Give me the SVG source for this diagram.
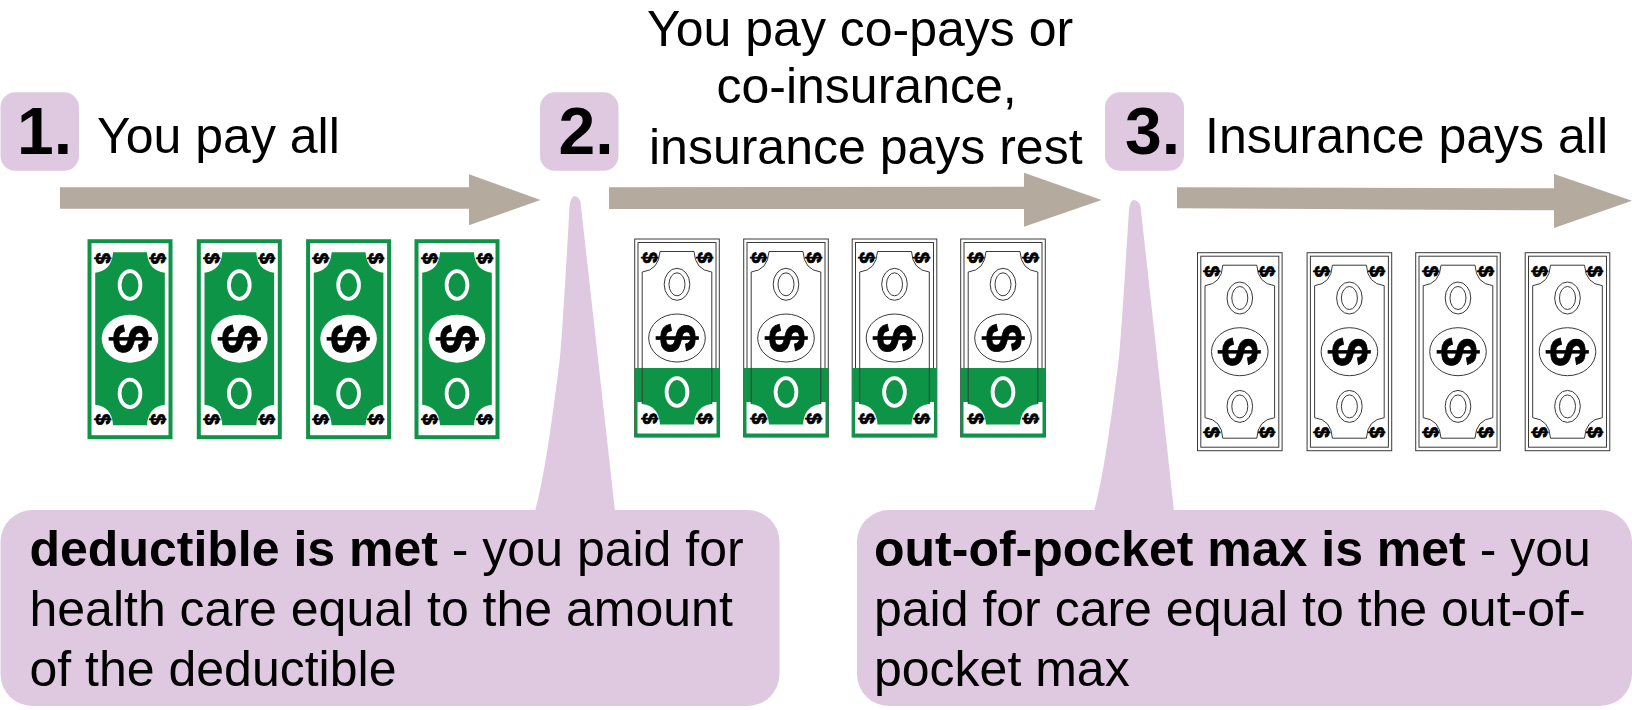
<svg xmlns="http://www.w3.org/2000/svg" xmlns:xlink="http://www.w3.org/1999/xlink" width="1632" height="710" viewBox="0 0 1632 710">
<style>
text{font-family:"Liberation Sans",Arial,Helvetica,sans-serif;fill:#000}
.t{font-size:50px}
.n{font-size:66px;font-weight:700}
.b{font-weight:700}
.p{fill:#dfc9e0}
.a{fill:#b5aa9e}
.d{font-weight:700;text-anchor:middle;stroke:#000;stroke-width:.7}
.g{fill:#0e9447}
.l{fill:none;stroke:#3a3a3a;stroke-width:1}
.lw{fill:#fff;stroke:#3a3a3a;stroke-width:1}
</style>
<defs>
<path id="inner" d="M-17 -86.5H17Q18 -68 34.8 -66V66Q18 68 17 86.5H-17Q-18 68 -34.8 66V-66Q-18 -68 -17 -86.5Z"/>
<g id="signs">
<g transform="translate(-27.5 -80.5) rotate(90)"><text class="d" font-size="20" y="7">$</text></g>
<g transform="translate(27.5 -80.5) rotate(90)"><text class="d" font-size="20" y="7">$</text></g>
<g transform="translate(-27.5 80.5) rotate(90)"><text class="d" font-size="20" y="7">$</text></g>
<g transform="translate(27.5 80.5) rotate(90)"><text class="d" font-size="20" y="7">$</text></g>
<rect x="-35.5" y="-81" width="16" height="1" fill="#000"/><rect x="19.5" y="-81" width="16" height="1" fill="#000"/>
<rect x="-35.5" y="80" width="16" height="1" fill="#000"/><rect x="19.5" y="80" width="16" height="1" fill="#000"/>
</g>
<g id="bigsign">
<g transform="rotate(90)"><text class="d" font-size="52" y="17.5">$</text></g>
<rect x="-20" y="-0.9" width="40" height="1.8" fill="#000"/>
</g>
<g id="billGreen">
<rect x="-40.5" y="-97.5" width="81" height="196" fill="#fff" stroke="#0e9447" stroke-width="4"/>
<use href="#inner" class="g"/>
<ellipse cy="-53.7" rx="10.4" ry="13.8" class="g" stroke="#fff" stroke-width="3.8"/>
<ellipse cy="54.7" rx="10.4" ry="13.8" class="g" stroke="#fff" stroke-width="3.8"/>
<ellipse rx="28.3" ry="24" fill="#fff"/>
<use href="#bigsign"/>
<use href="#signs"/>
</g>
<g id="billOutline">
<rect x="-42.3" y="-99" width="84.6" height="198" class="lw"/>
<rect x="-39" y="-95.5" width="78" height="191" class="l"/>
<use href="#inner" class="l"/>
<ellipse cy="-53.7" rx="12.8" ry="16" class="l"/>
<ellipse cy="-53.7" rx="8" ry="11.5" class="l"/>
<ellipse cy="54.7" rx="12.8" ry="16" class="l"/>
<ellipse cy="54.7" rx="8" ry="11.5" class="l"/>
<ellipse rx="28.3" ry="24" class="lw"/>
<use href="#bigsign"/>
<use href="#signs"/>
</g>
<clipPath id="innerClip"><use href="#inner"/></clipPath>
<g id="billPartial">
<rect x="-42.3" y="-99" width="84.6" height="198" class="lw"/>
<rect x="-39" y="-95.5" width="78" height="191" class="l"/>
<rect x="-42.3" y="30" width="84.6" height="69" class="g"/>
<rect x="-39.5" y="64" width="79" height="31.5" fill="#fff"/>
<g clip-path="url(#innerClip)"><rect x="-36" y="30" width="72" height="60" class="g"/></g>
<path d="M-34.8 66V-66Q-18 -68 -17 -86.5H17Q18 -68 34.8 -66V66" class="l"/>
<ellipse cy="-53.7" rx="12.8" ry="16" class="l"/>
<ellipse cy="-53.7" rx="8" ry="11.5" class="l"/>
<ellipse cy="54" rx="10.4" ry="13.8" class="g" stroke="#fff" stroke-width="3.8"/>
<ellipse rx="28.3" ry="24" class="lw"/>
<use href="#bigsign"/>
<use href="#signs"/>
</g>
</defs>
<rect width="1632" height="710" fill="#fff"/>

<g id="connectors">
<polygon class="a" points="60,187.3 469,187.3 469,174.3 540.5,200 469,225.3 469,208.7 60,208.7"/>
<polygon class="a" points="609,187.3 1024,186.7 1024,172.7 1101.6,200 1024,226.7 1024,209 609,209"/>
<polygon class="a" points="1177,187.3 1554,188.3 1554,174 1632,200.7 1554,228 1554,210.3 1177,208.3"/>
</g>

<g id="step-1">
<rect class="p" x="0.5" y="92.3" width="78.5" height="78.5" rx="15"/>
<text class="n" x="17" y="153.5">1.</text>
<text class="t" x="97" y="153">You pay all</text>
</g>
<g id="step-2">
<rect class="p" x="540" y="92.3" width="78.5" height="78.5" rx="15"/>
<text class="n" x="558.5" y="153.5">2.</text>
<text class="t" x="647" y="45.5">You pay co-pays or</text>
<text class="t" x="716.5" y="102.5">co-insurance,</text>
<text class="t" x="649" y="164">insurance pays rest</text>
</g>
<g id="step-3">
<rect class="p" x="1105" y="92.3" width="79" height="78.5" rx="15"/>
<text class="n" x="1125" y="153.5">3.</text>
<text class="t" x="1205" y="153">Insurance pays all</text>
</g>

<g id="bills-full">
<g id="bill-1-1"><use href="#billGreen" x="130" y="338.7"/></g>
<g id="bill-1-2"><use href="#billGreen" x="239.3" y="338.7"/></g>
<g id="bill-1-3"><use href="#billGreen" x="348.6" y="338.7"/></g>
<g id="bill-1-4"><use href="#billGreen" x="457" y="338.7"/></g>
</g>
<g id="bills-partial">
<g id="bill-2-1"><use href="#billPartial" x="677" y="338"/></g>
<g id="bill-2-2"><use href="#billPartial" x="786" y="338"/></g>
<g id="bill-2-3"><use href="#billPartial" x="894.5" y="338"/></g>
<g id="bill-2-4"><use href="#billPartial" x="1003" y="338"/></g>
</g>
<g id="bills-outline">
<g id="bill-3-1"><use href="#billOutline" x="1239.8" y="351.7"/></g>
<g id="bill-3-2"><use href="#billOutline" x="1349.4" y="351.7"/></g>
<g id="bill-3-3"><use href="#billOutline" x="1458" y="351.7"/></g>
<g id="bill-3-4"><use href="#billOutline" x="1567.5" y="351.7"/></g>
</g>

<g id="callout-deductible">
<path class="p" d="M535 511C543 484 552 423 560 357C564 310 567 250 569.5 207Q570.5 196 575 196Q579 197 580.5 202L615 511Z"/>
<rect class="p" x="0.5" y="510" width="779" height="196" rx="32"/>
<text class="t" x="29.5" y="565.5"><tspan class="b">deductible is met</tspan> - you paid for</text>
<text class="t" x="29.5" y="626">health care equal to the amount</text>
<text class="t" x="29.5" y="686">of the deductible</text>
</g>
<g id="callout-oop">
<path class="p" d="M1094 511C1102 484 1111 423 1119 357C1123 310 1126 255 1129 210Q1130 200 1134 200Q1139 201 1140.5 206L1174 511Z"/>
<rect class="p" x="857" y="510" width="775" height="196" rx="32"/>
<text class="t" x="874" y="565.5"><tspan class="b">out-of-pocket max is met</tspan> - you</text>
<text class="t" x="874" y="626">paid for care equal to the out-of-</text>
<text class="t" x="874" y="686">pocket max</text>
</g>
</svg>
